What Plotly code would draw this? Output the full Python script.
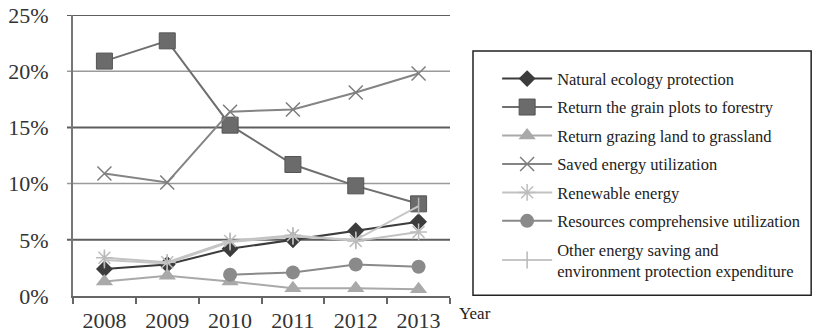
import plotly.graph_objects as go

years = ["2008", "2009", "2010", "2011", "2012", "2013"]

natural_ecology = [2.4, 2.8, 4.2, 5.0, 5.8, 6.6]
grain_to_forestry = [20.9, 22.7, 15.2, 11.7, 9.8, 8.2]
grazing_to_grassland = [1.3, 1.8, 1.3, 0.7, 0.7, 0.6]
saved_energy = [10.9, 10.1, 16.4, 16.6, 18.1, 19.8]
renewable_energy = [3.4, 3.0, 4.9, 5.4, 4.9, 5.7]
resources_utilization = [None, None, 1.9, 2.1, 2.8, 2.6]
other_expenditure = [3.2, 2.9, 4.8, 5.3, 5.0, 8.0]

y_ticks = [0, 5, 10, 15, 20, 25]
y_tick_labels = ["0%", "5%", "10%", "15%", "20%", "25%"]

SERIF = "Liberation Serif"

series = [
    ("Natural ecology protection", natural_ecology,
     dict(symbol="diamond", size=13, color="#3c3c3c"), "#3c3c3c"),
    ("Return the grain plots to forestry", grain_to_forestry,
     dict(symbol="square", size=16, color="#6b6b6b", line=dict(color="#555", width=1)), "#6f6f6f"),
    ("Return grazing land to grassland", grazing_to_grassland,
     dict(symbol="triangle-up", size=15, color="#a9a9a9"), "#a9a9a9"),
    ("Saved energy utilization", saved_energy,
     dict(symbol="x-thin", size=14, color="#7d7d7d", line=dict(color="#7d7d7d", width=1.5)), "#848484"),
    ("Renewable energy", renewable_energy,
     dict(symbol="asterisk", size=14, color="#bdbdbd", line=dict(color="#bdbdbd", width=1.5)), "#c2c2c2"),
    ("Resources comprehensive utilization", resources_utilization,
     dict(symbol="circle", size=14, color="#8a8a8a"), "#8a8a8a"),
    ("Other energy saving and<br>environment protection expenditure", other_expenditure,
     dict(symbol="line-ns", size=12, color="#c6c6c6", line=dict(color="#b8b8b8", width=1.5)), "#c6c6c6"),
]

fig = go.Figure()
for i, (name, vals, marker, lc) in enumerate(series):
    fig.add_trace(go.Scatter(
        x=years, y=vals, name=name, mode="lines+markers",
        line=dict(color=lc, width=2), marker=marker,
        legendgroup=f"g{i}", connectgaps=False,
    ))

# Alternating heavy / light horizontal rules across the plot
heavy = [5, 15, 25]
light = [10, 20]
for v in heavy:
    fig.add_shape(type="line", xref="paper", yref="y", x0=-0.016, x1=1, y0=v, y1=v,
                  line=dict(color="#5e5e5e", width=2), layer="below")
for v in light:
    fig.add_shape(type="line", xref="paper", yref="y", x0=-0.016, x1=1, y0=v, y1=v,
                  line=dict(color="#9a9a9a", width=1.5), layer="below")

# Legend frame
fig.add_shape(type="rect", xref="paper", yref="paper",
              x0=1.061, x1=1.958, y0=0.003, y1=0.872,
              line=dict(color="#222", width=1.5))

fig.add_annotation(text="Year", xref="paper", yref="paper", x=1.066, y=-0.02,
                   xanchor="center", yanchor="top", showarrow=False,
                   font=dict(family=SERIF, size=17, color="#222"))

fig.update_layout(
    width=821, height=333,
    margin=dict(l=73, r=371, t=15, b=37, autoexpand=False),
    paper_bgcolor="white", plot_bgcolor="white",
    font=dict(family=SERIF, color="#222", size=16),
    legend=dict(
        x=1.125, y=0.835, xanchor="left", yanchor="top",
        font=dict(family=SERIF, size=16.5, color="#222"),
        traceorder="grouped", tracegroupgap=4,
        itemwidth=50, bgcolor="rgba(0,0,0,0)", borderwidth=0,
    ),
    xaxis=dict(
        type="category", range=[-0.5, 5.5], showgrid=False, automargin=False,
        showline=True, linecolor="#666", linewidth=2,
        ticks="outside", tickson="boundaries", ticklen=6, tickwidth=1.5, tickcolor="#666",
        tickfont=dict(family=SERIF, size=22, color="#333"),
        ticklabelstandoff=4,
    ),
    yaxis=dict(
        range=[0, 25], tickmode="array", tickvals=y_ticks, ticktext=y_tick_labels,
        showgrid=False, zeroline=False, automargin=False,
        showline=True, linecolor="#777", linewidth=2,
        ticks="", ticklabelstandoff=18,
        tickfont=dict(family=SERIF, size=22, color="#333"),
    ),
)

fig.write_html("out.html")
